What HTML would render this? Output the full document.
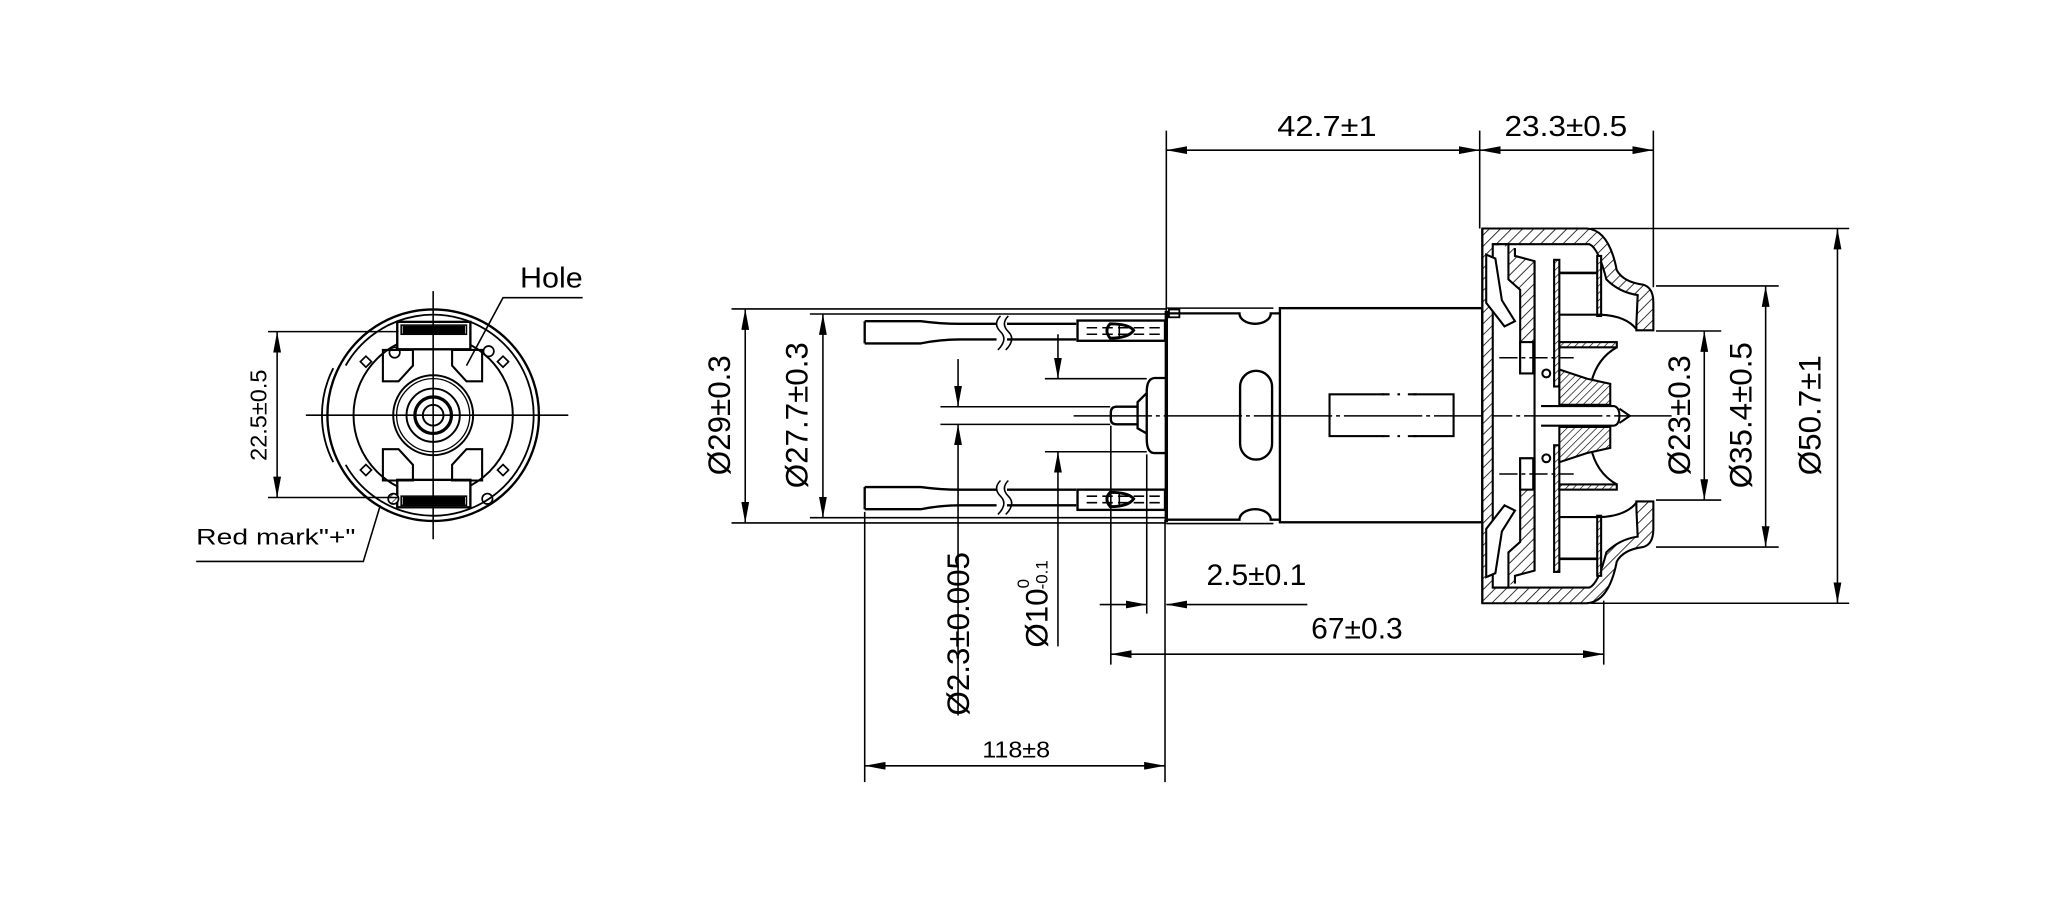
<!DOCTYPE html>
<html><head><meta charset="utf-8"><style>
html,body{margin:0;padding:0;background:#fff;}
svg{display:block;}
text{font-family:"Liberation Sans",Arial,sans-serif;fill:#000;}
</style></head><body>
<svg width="2048" height="914" viewBox="0 0 1568 700" xmlns="http://www.w3.org/2000/svg">
<defs>
<marker id="a" viewBox="0 0 16 6" refX="16" refY="3" markerWidth="16" markerHeight="6" markerUnits="userSpaceOnUse" orient="auto-start-reverse"><path d="M0,0 L16,3 L0,6 Z" fill="#000"/></marker>
<pattern id="h" width="6" height="6" patternUnits="userSpaceOnUse" patternTransform="rotate(45)"><rect width="6" height="6" fill="#fff"/><line x1="0" y1="0" x2="0" y2="6" stroke="#000" stroke-width="1.2"/></pattern>
<pattern id="h2" width="4" height="4" patternUnits="userSpaceOnUse" patternTransform="rotate(45)"><rect width="4" height="4" fill="#fff"/><line x1="0" y1="0" x2="0" y2="4" stroke="#000" stroke-width="1"/></pattern>
</defs>
<g fill="none" stroke="#000" stroke-width="1.2">

<!-- ===== LEFT END VIEW ===== -->
<g stroke-width="1.8">
<circle cx="331.5" cy="318" r="81"/>
<path d="M264.5,280 A77,77 0 1 1 264.5,356" stroke-width="1.4"/>
<path d="M255,282 A79,79 0 0 0 255,354" stroke-width="1.4"/>
<circle cx="331.5" cy="318" r="61" stroke-width="1.5"/>
<circle cx="331.5" cy="318" r="30.6" stroke-width="1.5"/>
<circle cx="331.5" cy="318" r="28" stroke-width="1"/>
<circle cx="331.5" cy="318" r="20.4" stroke-width="1.5"/>
<circle cx="331.5" cy="318" r="14" stroke-width="2.5"/>
<circle cx="331.5" cy="318" r="7.9" stroke-width="1.5"/>
<rect x="304" y="246.5" width="56" height="21" fill="#fff"/>
<rect x="307" y="249" width="50" height="7" stroke-width="1.2"/>
<rect x="309" y="250.5" width="46" height="4" fill="#000"/>
<rect x="304" y="367.5" width="56" height="21" fill="#fff"/>
<rect x="307" y="380" width="50" height="7" stroke-width="1.2"/>
<rect x="309" y="381.5" width="46" height="4" fill="#000"/>
<path d="M293,268 L316,268 L316,280 L305,292 L293,292 Z" stroke-width="1.6"/>
<path d="M346,268 L369,268 L369,292 L357,292 L346,280 Z" stroke-width="1.6"/>
<path d="M293,344 L305,344 L316,356 L316,368 L293,368 Z" stroke-width="1.6"/>
<path d="M357,344 L369,344 L369,368 L346,368 L346,356 Z" stroke-width="1.6"/>
<circle cx="302" cy="270" r="4" stroke-width="1.3"/>
<circle cx="374" cy="269" r="4" stroke-width="1.3"/>
<circle cx="301" cy="382" r="4" fill="url(#h2)" stroke-width="1.3"/>
<circle cx="373" cy="382" r="4" stroke-width="1.3"/>
<rect x="277" y="274" width="6" height="6" transform="rotate(45 280 277)" stroke-width="1.3"/>
<rect x="382" y="274" width="6" height="6" transform="rotate(45 385 277)" stroke-width="1.3"/>
<rect x="277" y="357" width="6" height="6" transform="rotate(45 280 360)" stroke-width="1.3"/>
<rect x="382" y="357" width="6" height="6" transform="rotate(45 385 360)" stroke-width="1.3"/>
</g>
<line x1="234" y1="318" x2="435" y2="318"/>
<line x1="331.5" y1="223" x2="331.5" y2="413"/>
<line x1="205" y1="254" x2="305" y2="254"/>
<line x1="205" y1="381" x2="305" y2="381"/>
<line x1="212" y1="254" x2="212" y2="381" marker-start="url(#a)" marker-end="url(#a)"/>
<polyline points="357,280 385,228 446,228"/>
<polyline points="291,387 278,430 150,430"/>

<!-- ===== MAIN SIDE VIEW ===== -->
<g stroke-width="1.8">
<path d="M662,246 L705,246 Q720,248 735,248 L824,248 M662,263 L705,263 Q720,260 735,260 L824,260 M662,246 L662,263"/>
<path d="M662,373 L705,373 Q720,375 735,375 L824,375 M662,390 L705,390 Q720,387 735,387 L824,387 M662,373 L662,390"/>
<rect x="825" y="245.5" width="67" height="15.5"/>
<rect x="825" y="375" width="67" height="15.5"/>
</g>
<rect x="763" y="244" width="8" height="22" fill="#fff" stroke="none"/>
<rect x="763" y="370" width="8" height="22" fill="#fff" stroke="none"/>
<path d="M766,242 q-6,6 0,12 q6,6 -2,14 M772,242 q-6,6 0,12 q6,6 -2,14" stroke-width="1.2"/>
<path d="M766,368 q-6,6 0,12 q6,6 -2,14 M772,368 q-6,6 0,12 q6,6 -2,14" stroke-width="1.2"/>
<line x1="832" y1="251" x2="890" y2="251" stroke-dasharray="8,4"/>
<line x1="832" y1="256" x2="890" y2="256" stroke-dasharray="8,4"/>
<line x1="832" y1="380" x2="890" y2="380" stroke-dasharray="8,4"/>
<line x1="832" y1="385" x2="890" y2="385" stroke-dasharray="8,4"/>
<path d="M850,248 Q864,248 868,253 Q864,259 850,259 Q845,253 850,248 Z" stroke-width="2.2"/>
<path d="M850,377 Q864,377 868,382 Q864,388 850,388 Q845,382 850,377 Z" stroke-width="2.2"/>
<line x1="857" y1="248" x2="857" y2="259"/>
<line x1="857" y1="377" x2="857" y2="388"/>

<!-- endcap -->
<g stroke-width="1.8">
<path d="M893,240 L949,240 A12,8 0 0 0 973,240 L980,240"/>
<path d="M893,398 L949,398 A12,8 0 0 1 973,398 L980,398"/>
<line x1="893" y1="238" x2="893" y2="400" stroke-width="2.6"/>
<rect x="895" y="237" width="8" height="6" stroke-width="1.4"/>
<rect x="949.5" y="284" width="24.5" height="68" rx="12.2"/>
<path d="M892,289.5 L884,289.5 Q878,290 878,300 L878,336 Q878,347 884,347 L892,347"/>
<path d="M878,301 L871,308 L871,328 L878,332"/>
<path d="M871,311.5 L855,311.5 Q850.5,311.5 850.5,316 L850.5,321 Q850.5,325 855,325 L871,325"/>
<rect x="980" y="236" width="155" height="164"/>
</g>
<line x1="893" y1="236" x2="975" y2="236"/>
<line x1="893" y1="401" x2="975" y2="401"/>
<rect x="1018" y="302" width="95" height="32" stroke-width="1.6"/>
<rect x="1060" y="298" width="22" height="40" fill="#fff" stroke="none"/>
<path d="M1058,302 L1064,302 M1070,302 L1072,302 M1078,302 L1085,302 M1058,334 L1064,334 M1070,334 L1072,334 M1078,334 L1085,334" stroke-width="1.6"/>
<line x1="822" y1="318.5" x2="1280" y2="318.5" stroke-dasharray="60,3,3,3"/>

<!-- fan housing -->
<g stroke-width="1.6">
<path d="M1135,175 L1215,175 Q1232,176 1238,207 Q1243,216 1258,218 Q1266,220 1266,232 L1266,253 L1253,253 L1253,248 L1254,226 Q1240,224 1230,214 Q1224,190 1217,187 L1143,187 L1143,450 L1217,450 Q1224,447 1230,423 Q1240,413 1254,411 L1253,389 L1253,384 L1266,384 L1266,405 Q1266,417 1258,419 Q1243,421 1238,430 Q1232,461 1215,462 L1135,462 Z" fill="url(#h)"/>
<path d="M1135,175 L1135,462"/>
<path d="M1143,187 L1155,187 L1155,214 L1164,222 L1164,286 L1175,286 L1175,200 L1160,196 L1160,190" fill="url(#h)"/>
<path d="M1143,450 L1155,450 L1155,423 L1164,415 L1164,351 L1175,351 L1175,437 L1160,441 L1160,447" fill="url(#h)"/>
<path d="M1138,195 L1145,198 L1150,230 L1160,246 L1152,250 L1138,232 Z" fill="#fff"/>
<path d="M1138,442 L1145,439 L1150,407 L1160,391 L1152,387 L1138,405 Z" fill="#fff"/>
<rect x="1190" y="199" width="4" height="97" fill="url(#h2)"/>
<rect x="1190" y="341" width="4" height="97" fill="url(#h2)"/>
<line x1="1175" y1="200" x2="1175" y2="437"/>
<rect x="1223" y="196" width="3" height="46" fill="url(#h2)"/>
<rect x="1223" y="395" width="3" height="46" fill="url(#h2)"/>
<line x1="1194" y1="209" x2="1223" y2="209" stroke-width="2"/>
<line x1="1194" y1="428" x2="1223" y2="428" stroke-width="2"/>
<path d="M1194,241 L1226,241 Q1245,242 1253,252" />
<path d="M1194,396 L1226,396 Q1245,395 1253,385" />
<rect x="1194" y="262" width="44" height="4" fill="url(#h2)"/>
<rect x="1194" y="371" width="44" height="4" fill="url(#h2)"/>
<path d="M1238,266 Q1222,275 1218,295 M1238,371 Q1222,362 1218,342"/>
<path d="M1194,283 L1215,290 L1233,294 L1233,310 L1194,310 Z" fill="url(#h2)"/>
<path d="M1194,327 L1233,327 L1233,343 L1215,347 L1194,354 Z" fill="url(#h2)"/>
<path d="M1180,311 L1236,311 Q1240,312 1240,318.5 Q1240,325 1236,326 L1180,326"/>
<path d="M1240,313 L1248,318.5 L1240,324"/>
<rect x="1164" y="262" width="10" height="24" fill="#fff"/>
<rect x="1164" y="351" width="10" height="24" fill="#fff"/>
<circle cx="1184" cy="286" r="3"/>
<circle cx="1184" cy="351" r="3"/>
</g>
<line x1="1148" y1="274" x2="1205" y2="274" stroke-dasharray="14,3,3,3"/>
<line x1="1148" y1="363" x2="1205" y2="363" stroke-dasharray="14,3,3,3"/>

<!-- ===== DIMENSIONS ===== -->
<line x1="893" y1="100" x2="893" y2="238"/>
<line x1="1133" y1="100" x2="1133" y2="175"/>
<line x1="1266" y1="100" x2="1266" y2="220"/>
<line x1="893" y1="115" x2="1133" y2="115" marker-start="url(#a)" marker-end="url(#a)"/>
<line x1="1133" y1="115" x2="1266" y2="115" marker-start="url(#a)" marker-end="url(#a)"/>
<line x1="1218" y1="175" x2="1416" y2="175"/>
<line x1="1218" y1="462" x2="1416" y2="462"/>
<line x1="1268" y1="219" x2="1362" y2="219"/>
<line x1="1268" y1="419" x2="1362" y2="419"/>
<line x1="1268" y1="253.5" x2="1318" y2="253.5"/>
<line x1="1268" y1="383" x2="1318" y2="383"/>
<line x1="1305" y1="253.5" x2="1305" y2="383" marker-start="url(#a)" marker-end="url(#a)"/>
<line x1="1352" y1="219" x2="1352" y2="419" marker-start="url(#a)" marker-end="url(#a)"/>
<line x1="1407" y1="175" x2="1407" y2="462" marker-start="url(#a)" marker-end="url(#a)"/>
<line x1="560" y1="236.6" x2="893" y2="236.6"/>
<line x1="560" y1="400.5" x2="893" y2="400.5"/>
<line x1="620" y1="240.5" x2="893" y2="240.5"/>
<line x1="620" y1="396.5" x2="893" y2="396.5"/>
<line x1="570.5" y1="236.6" x2="570.5" y2="400.5" marker-start="url(#a)" marker-end="url(#a)"/>
<line x1="630" y1="240.5" x2="630" y2="396.5" marker-start="url(#a)" marker-end="url(#a)"/>
<line x1="720" y1="311.5" x2="850" y2="311.5"/>
<line x1="720" y1="325" x2="850" y2="325"/>
<line x1="733.5" y1="275" x2="733.5" y2="311.5" marker-end="url(#a)"/>
<line x1="733.5" y1="548" x2="733.5" y2="325" marker-end="url(#a)"/>
<line x1="800" y1="290" x2="878" y2="290"/>
<line x1="800" y1="346" x2="878" y2="346"/>
<line x1="810" y1="256" x2="810" y2="290" marker-end="url(#a)"/>
<line x1="810" y1="495" x2="810" y2="346" marker-end="url(#a)"/>
<line x1="662" y1="392" x2="662" y2="599"/>
<line x1="892" y1="398" x2="892" y2="599"/>
<line x1="850.5" y1="326" x2="850.5" y2="509"/>
<line x1="878" y1="348" x2="878" y2="470"/>
<line x1="1228" y1="460" x2="1228" y2="509"/>
<line x1="842" y1="463" x2="878" y2="463" marker-end="url(#a)"/>
<line x1="1001" y1="463" x2="893" y2="463" marker-end="url(#a)"/>
<line x1="850.5" y1="501" x2="1228" y2="501" marker-start="url(#a)" marker-end="url(#a)"/>
<line x1="662" y1="586.5" x2="892" y2="586.5" marker-start="url(#a)" marker-end="url(#a)"/>
</g>

<!-- ===== TEXT ===== -->
<text x="398" y="220" font-size="22" textLength="48" lengthAdjust="spacingAndGlyphs">Hole</text>
<text x="150" y="417" font-size="17" textLength="122" lengthAdjust="spacingAndGlyphs">Red mark"+"</text>
<text transform="translate(204,318) rotate(-90)" text-anchor="middle" font-size="18">22.5±0.5</text>
<text x="1016" y="104" text-anchor="middle" font-size="22" textLength="76" lengthAdjust="spacingAndGlyphs">42.7±1</text>
<text x="1199" y="104" text-anchor="middle" font-size="22" textLength="94" lengthAdjust="spacingAndGlyphs">23.3±0.5</text>
<text transform="translate(1294,318) rotate(-90)" text-anchor="middle" font-size="24">Ø23±0.3</text>
<text transform="translate(1341,318) rotate(-90)" text-anchor="middle" font-size="24">Ø35.4±0.5</text>
<text transform="translate(1394,318) rotate(-90)" text-anchor="middle" font-size="24">Ø50.7±1</text>
<text transform="translate(559,318) rotate(-90)" text-anchor="middle" font-size="24">Ø29±0.3</text>
<text transform="translate(618,318) rotate(-90)" text-anchor="middle" font-size="24">Ø27.7±0.3</text>
<text transform="translate(742,548) rotate(-90)" font-size="24">Ø2.3±0.005</text>
<text transform="translate(802,496) rotate(-90)" font-size="24">Ø10<tspan font-size="13" dy="-14">0</tspan><tspan font-size="13" dx="-8" dy="14">-0.1</tspan></text>
<text x="962" y="448" text-anchor="middle" font-size="23">2.5±0.1</text>
<text x="1039" y="489" text-anchor="middle" font-size="23">67±0.3</text>
<text x="778" y="580" text-anchor="middle" font-size="18" textLength="52" lengthAdjust="spacingAndGlyphs">118±8</text>
</svg>
</body></html>
